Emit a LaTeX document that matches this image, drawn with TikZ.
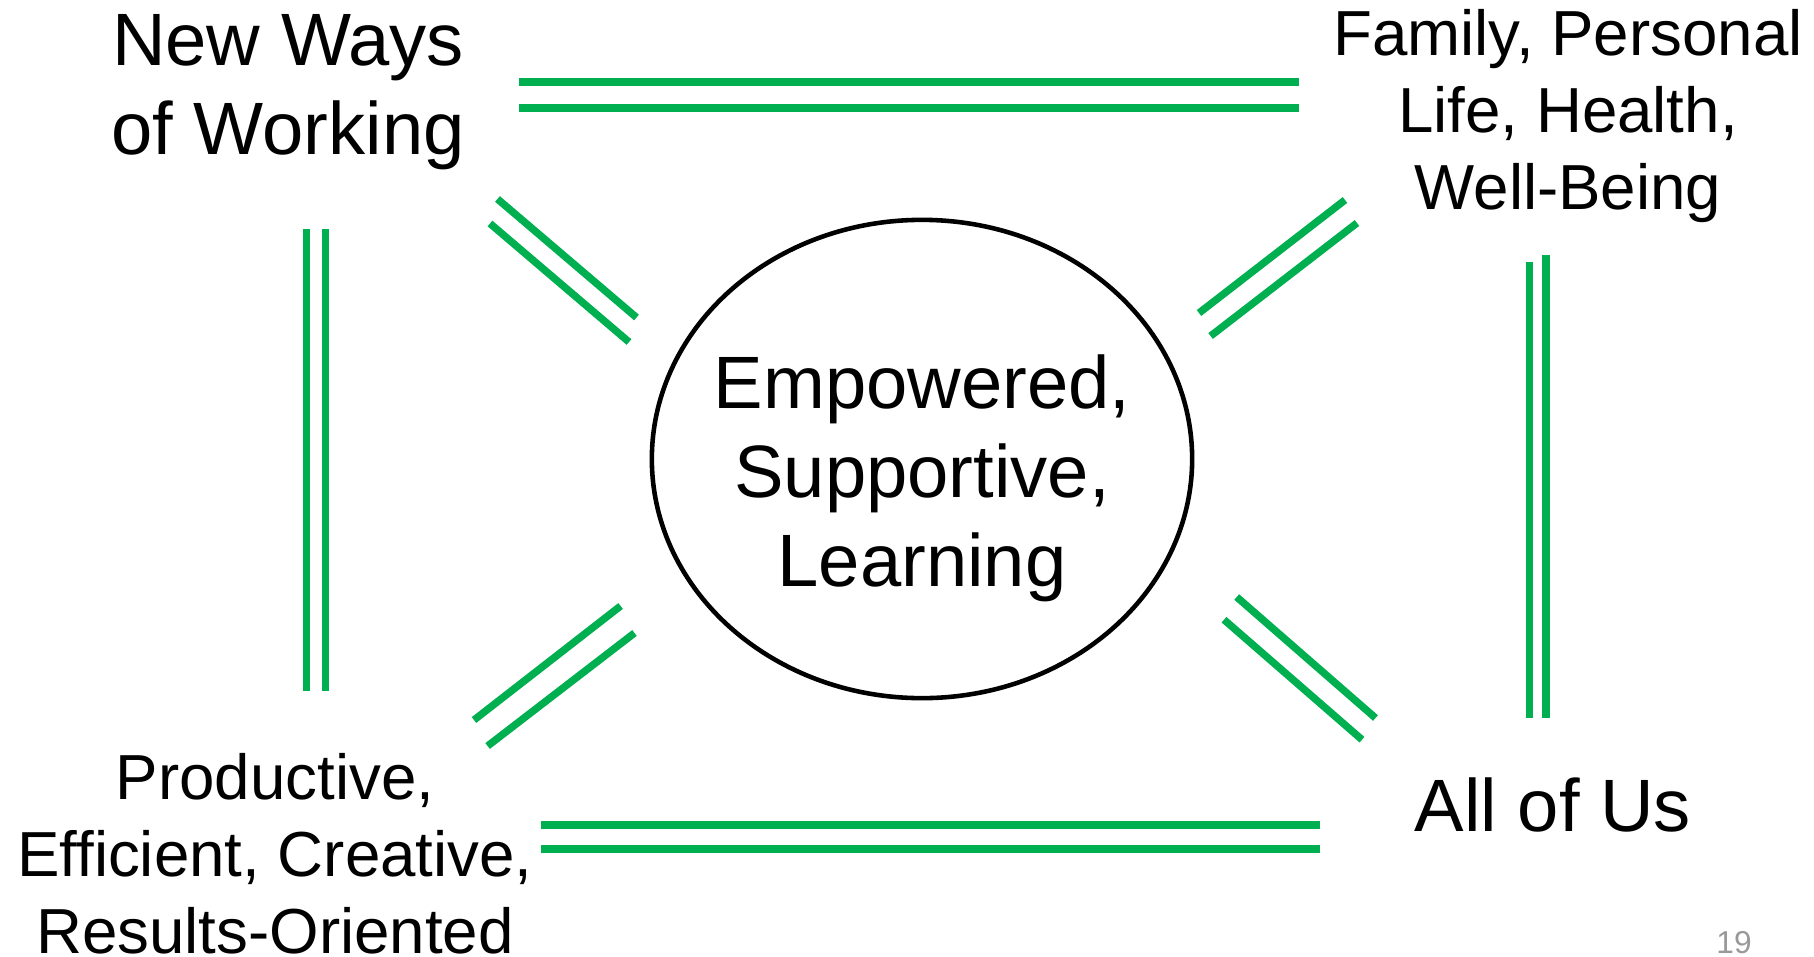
\documentclass[tikz,border=0pt]{standalone}
\usepackage{fontspec}
\setmainfont{Liberation Sans}
\usetikzlibrary{shapes.geometric}
\definecolor{grn}{HTML}{00B050}
\definecolor{pgnum}{HTML}{999999}
\begin{document}
\begin{tikzpicture}[x=0.01cm,y=-0.01cm,
  big/.style={font=\fontsize{21.1}{25.3}\selectfont, align=center, anchor=north, inner sep=0pt},
  small/.style={font=\fontsize{18.1}{21.8}\selectfont, align=center, anchor=north, inner sep=0pt},
  link/.style={draw=grn, line width=2.1pt}]
\useasboundingbox (0,0) rectangle (1814,957);
% concept texts
\node[big] (nw) at (288,14) {New Ways\\of Working};
\node[small] (ne) at (1568,9) {Family, Personal\\Life, Health,\\Well-Being};
\node[small] (sw) at (275,753) {Productive,\\Efficient, Creative,\\Results-Oriented};
\node[big] (se) at (1553,777) {All of Us};
% hub
\node[draw, ellipse, line width=1.3pt, inner sep=0pt, minimum width=5.40cm, minimum height=4.78cm] (hub) at (922,459) {};
\node[big] (hubtxt) at (922,354) {Empowered,\\Supportive,\\Learning};
% page number
\node[font=\fontsize{9}{10}\selectfont, text=pgnum, anchor=base, inner sep=0pt] (pg) at (1734,953) {19};
% connector end points
\coordinate (ta1) at (519,82);   \coordinate (tb1) at (1299,82);
\coordinate (ta2) at (519,108);  \coordinate (tb2) at (1299,108);
\coordinate (ba1) at (541,825);  \coordinate (bb1) at (1320,825);
\coordinate (ba2) at (541,849);  \coordinate (bb2) at (1320,849);
\coordinate (la1) at (306.5,229); \coordinate (lb1) at (306.5,691);
\coordinate (la2) at (325.6,229); \coordinate (lb2) at (325.6,691);
\coordinate (ra1) at (1529.5,262); \coordinate (rb1) at (1529.5,718);
\coordinate (ra2) at (1546,255);   \coordinate (rb2) at (1546,718);
\coordinate (ula1) at (497.5,199); \coordinate (ulb1) at (636.5,317.5);
\coordinate (ula2) at (490,223.5); \coordinate (ulb2) at (629,342);
\coordinate (ura1) at (1345,200);  \coordinate (urb1) at (1199,313);
\coordinate (ura2) at (1357,223);  \coordinate (urb2) at (1210.6,336);
\coordinate (lla1) at (474,720);   \coordinate (llb1) at (620.6,606);
\coordinate (lla2) at (487.6,746); \coordinate (llb2) at (634.5,633);
\coordinate (lra1) at (1375.5,718); \coordinate (lrb1) at (1236.7,597);
\coordinate (lra2) at (1362,739.7); \coordinate (lrb2) at (1224,619.7);
% green double connectors
\draw[link] (ta1) -- (tb1);  \draw[link] (ta2) -- (tb2);
\draw[link] (ba1) -- (bb1);  \draw[link] (ba2) -- (bb2);
\draw[link] (la1) -- (lb1);  \draw[link] (la2) -- (lb2);
\draw[link] (ra1) -- (rb1);  \draw[link] (ra2) -- (rb2);
\draw[link] (ula1) -- (ulb1); \draw[link] (ula2) -- (ulb2);
\draw[link] (ura1) -- (urb1); \draw[link] (ura2) -- (urb2);
\draw[link] (lla1) -- (llb1); \draw[link] (lla2) -- (llb2);
\draw[link] (lra1) -- (lrb1); \draw[link] (lra2) -- (lrb2);
\end{tikzpicture}
\end{document}
